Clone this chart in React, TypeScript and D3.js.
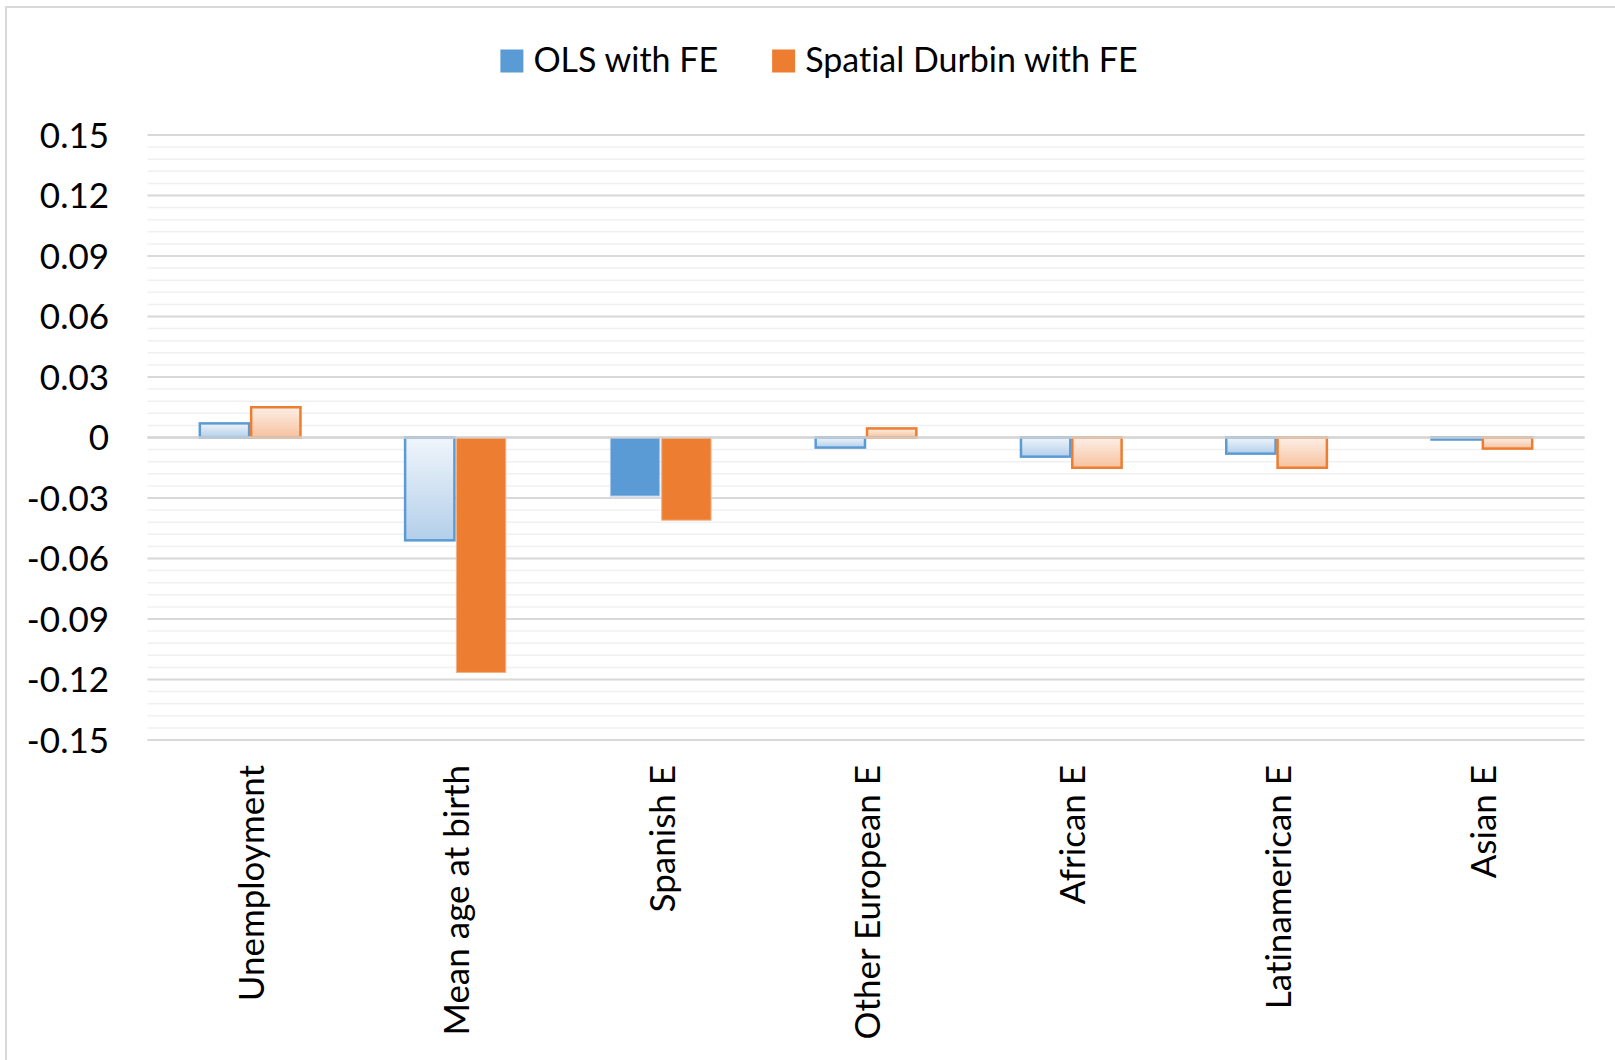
import React, { useEffect, useRef } from "react";
import * as d3 from "d3";

const categories = [
  "Unemployment",
  "Mean age at birth",
  "Spanish E",
  "Other European E",
  "African E",
  "Latinamerican E",
  "Asian E",
];
const seriesNames = ["OLS with FE", "Spatial Durbin with FE"];
const olsValues = [0.007, -0.051, -0.029, -0.005, -0.0095, -0.008, -0.001];
const sdmValues = [0.015, -0.1165, -0.041, 0.0045, -0.015, -0.015, -0.0055];
// solid (significant) vs gradient bars
const olsSolid = [false, false, true, false, false, false, false];
const sdmSolid = [false, true, true, false, false, false, false];
const yTicks = [0.15, 0.12, 0.09, 0.06, 0.03, 0, -0.03, -0.06, -0.09, -0.12, -0.15];

const W = 1615;
const H = 1060;
const FONT = "Lato, 'Open Sans', sans-serif";

export default function App() {
  const ref = useRef<SVGSVGElement | null>(null);

  useEffect(() => {
    document.body.style.margin = "0";
    const svg = d3.select(ref.current);
    svg.selectAll("*").remove();

    const defs = svg.append("defs");
    const grads = [
      { id: "gBlue", top: "#eff5fb", bottom: "#b3cfea" },
      { id: "gOrange", top: "#fdefe6", bottom: "#f6c29e" },
    ];
    grads.forEach((g) => {
      const lg = defs
        .append("linearGradient")
        .attr("id", g.id)
        .attr("x1", 0)
        .attr("y1", 0)
        .attr("x2", 0)
        .attr("y2", 1);
      lg.append("stop").attr("offset", "0%").attr("stop-color", g.top);
      lg.append("stop").attr("offset", "100%").attr("stop-color", g.bottom);
    });

    // outer border
    svg
      .append("rect")
      .attr("x", 6)
      .attr("y", 7)
      .attr("width", 1700)
      .attr("height", 1200)
      .attr("fill", "#fff")
      .attr("stroke", "#d9d9d9")
      .attr("stroke-width", 2);

    const y = d3.scaleLinear().domain([-0.15, 0.15]).range([740, 135]);
    const x0 = d3.scaleBand<string>().domain(categories).range([147.5, 1584.5]).padding(0);
    const x1 = d3
      .scaleBand<string>()
      .domain(seriesNames)
      .range([0, x0.bandwidth()])
      .paddingInner(0)
      .paddingOuter(1);

    const left = 147.5;
    const right = 1584.5;

    // minor gridlines
    const minor = d3.range(-0.15, 0.15 + 1e-9, 0.006);
    svg
      .append("g")
      .selectAll("line")
      .data(minor)
      .join("line")
      .attr("x1", left)
      .attr("x2", right)
      .attr("y1", (d) => y(d))
      .attr("y2", (d) => y(d))
      .attr("stroke", "#f0f0f0")
      .attr("stroke-width", 1.5);

    // major gridlines
    svg
      .append("g")
      .selectAll("line")
      .data(yTicks)
      .join("line")
      .attr("x1", left)
      .attr("x2", right)
      .attr("y1", (d) => y(d))
      .attr("y2", (d) => y(d))
      .attr("stroke", "#d9d9d9")
      .attr("stroke-width", 2);

    // y tick labels
    svg
      .append("g")
      .selectAll("text")
      .data(yTicks)
      .join("text")
      .attr("x", 109)
      .attr("y", (d) => y(d))
      .attr("dy", "0.36em")
      .attr("text-anchor", "end")
      .attr("font-family", FONT)
      .attr("font-size", 35)
      .attr("fill", "#000")
      .text((d) => (d === 0 ? "0" : d3.format(".2f")(d).replace("\u2212", "-")));

    // bars
    const seriesData = [
      { name: seriesNames[0], values: olsValues, solid: olsSolid, color: "#5b9bd5", grad: "url(#gBlue)", edge: "#a9c8e8" },
      { name: seriesNames[1], values: sdmValues, solid: sdmSolid, color: "#ed7d31", grad: "url(#gOrange)", edge: "#f4b183" },
    ];
    const bars = svg.append("g");
    seriesData.forEach((s) => {
      categories.forEach((c, i) => {
        const v = s.values[i];
        const bx = (x0(c) as number) + (x1(s.name) as number);
        const bw = x1.bandwidth();
        const top = Math.min(y(v), y(0));
        const h = Math.abs(y(v) - y(0));
        bars
          .append("rect")
          .attr("x", bx + 1)
          .attr("y", top)
          .attr("width", bw - 2)
          .attr("height", h)
          .attr("fill", s.solid[i] ? s.color : s.grad)
          .attr("stroke", s.solid[i] ? s.edge : s.color)
          .attr("stroke-width", s.solid[i] ? 1 : 2.5);
      });
    });

    // zero line on top
    svg
      .append("line")
      .attr("x1", left)
      .attr("x2", right)
      .attr("y1", y(0))
      .attr("y2", y(0))
      .attr("stroke", "#d4d4d4")
      .attr("stroke-opacity", 0.85)
      .attr("stroke-width", 2.5);

    // category labels
    svg
      .append("g")
      .selectAll("text")
      .data(categories)
      .join("text")
      .attr("transform", (d) => `translate(${(x0(d) as number) + x0.bandwidth() / 2},765) rotate(-90)`)
      .attr("dy", "0.4em")
      .attr("text-anchor", "end")
      .attr("font-family", FONT)
      .attr("font-size", 35)
      .attr("fill", "#000")
      .text((d) => d);

    // legend
    const lg = svg.append("g");
    const sq = 23;
    const gapText = 10;
    const gapItem = 54;
    const colors = ["#5b9bd5", "#ed7d31"];
    const items = seriesNames.map((n, i) => {
      const g = lg.append("g");
      g.append("rect").attr("width", sq).attr("height", sq).attr("y", 49.5).attr("fill", colors[i]);
      const t = g
        .append("text")
        .attr("x", sq + gapText)
        .attr("y", 72)
        .attr("font-family", FONT)
        .attr("font-size", 34)
        .style("font-variant-ligatures", "none")
        .attr("fill", "#000")
        .text(n);
      const tw = (t.node() as SVGTextElement).getComputedTextLength();
      return { g, w: sq + gapText + tw };
    });
    const total = items.reduce((a, b) => a + b.w, 0) + gapItem;
    let cx = 819 - total / 2;
    items.forEach((it) => {
      it.g.attr("transform", `translate(${cx},0)`);
      cx += it.w + gapItem;
    });
  }, []);

  return (
    <svg
      ref={ref}
      width={W}
      height={H}
      style={{ display: "block", background: "#fff", fontVariantLigatures: "none" }}
    />
  );
}
